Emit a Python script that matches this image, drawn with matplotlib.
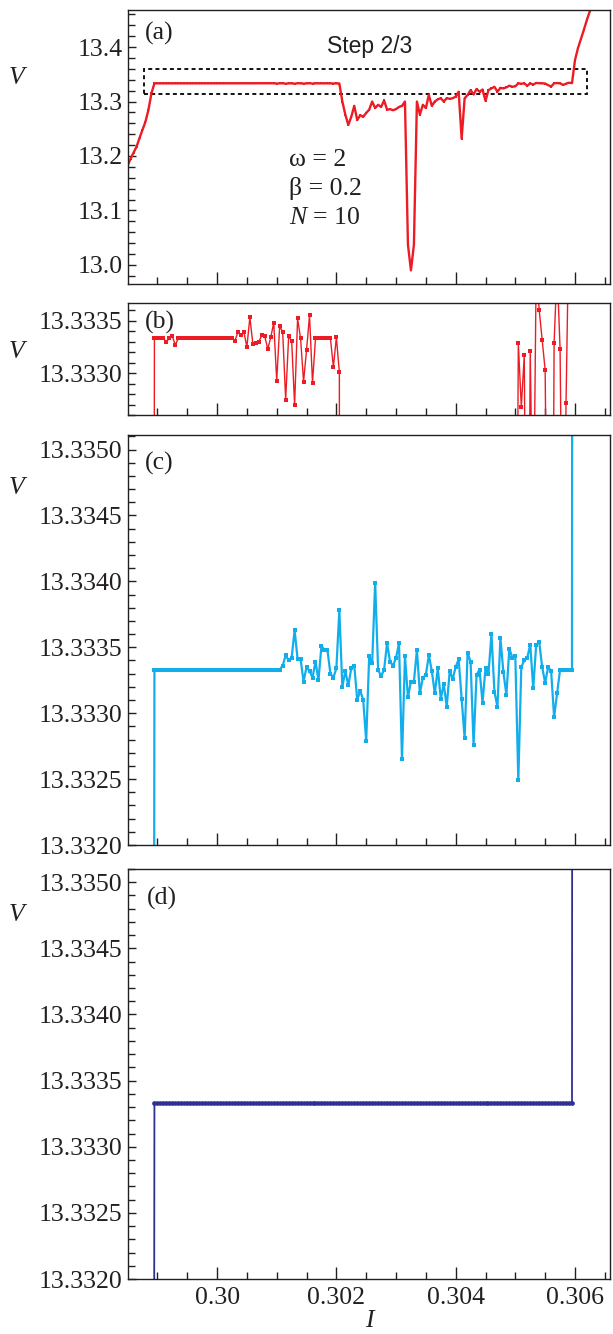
import matplotlib
matplotlib.use("Agg")
import matplotlib.pyplot as plt
from matplotlib.ticker import MultipleLocator, FormatStrFormatter, NullFormatter
from matplotlib.patches import Rectangle

plt.rcParams['font.family'] = ['Liberation Serif', 'DejaVu Serif']
plt.rcParams['mathtext.fontset'] = 'custom'
plt.rcParams['mathtext.rm'] = 'Liberation Serif'
plt.rcParams['mathtext.it'] = 'Liberation Serif:italic'

# ---------------- data ----------------
I_grid = [
    0.29850, 0.29855, 0.29860, 0.29865, 0.29870, 0.29875, 0.29880, 0.29885, 0.29890, 0.29895,
    0.29900, 0.29905, 0.29910, 0.29915, 0.29920, 0.29925, 0.29930, 0.29935, 0.29940, 0.29945,
    0.29950, 0.29955, 0.29960, 0.29965, 0.29970, 0.29975, 0.29980, 0.29985, 0.29990, 0.29995,
    0.30000, 0.30005, 0.30010, 0.30015, 0.30020, 0.30025, 0.30030, 0.30035, 0.30040, 0.30045,
    0.30050, 0.30055, 0.30060, 0.30065, 0.30070, 0.30075, 0.30080, 0.30085, 0.30090, 0.30095,
    0.30100, 0.30105, 0.30110, 0.30115, 0.30120, 0.30125, 0.30130, 0.30135, 0.30140, 0.30145,
    0.30150, 0.30155, 0.30160, 0.30165, 0.30170, 0.30175, 0.30180, 0.30185, 0.30190, 0.30195,
    0.30200, 0.30205, 0.30210, 0.30215, 0.30220, 0.30225, 0.30230, 0.30235, 0.30240, 0.30245,
    0.30250, 0.30255, 0.30260, 0.30265, 0.30270, 0.30275, 0.30280, 0.30285, 0.30290, 0.30295,
    0.30300, 0.30305, 0.30310, 0.30315, 0.30320, 0.30325, 0.30330, 0.30335, 0.30340, 0.30345,
    0.30350, 0.30355, 0.30360, 0.30365, 0.30370, 0.30375, 0.30380, 0.30385, 0.30390, 0.30395,
    0.30400, 0.30405, 0.30410, 0.30415, 0.30420, 0.30425, 0.30430, 0.30435, 0.30440, 0.30445,
    0.30450, 0.30455, 0.30460, 0.30465, 0.30470, 0.30475, 0.30480, 0.30485, 0.30490, 0.30495,
    0.30500, 0.30505, 0.30510, 0.30515, 0.30520, 0.30525, 0.30530, 0.30535, 0.30540, 0.30545,
    0.30550, 0.30555, 0.30560, 0.30565, 0.30570, 0.30575, 0.30580, 0.30585, 0.30590, 0.30595,
    0.30600, 0.30605, 0.30610, 0.30615, 0.30620, 0.30625, 0.30630,
]

# red series, panels (a) and (b)
V_red = [
    13.182, 13.195, 13.206, 13.217, 13.233, 13.248, 13.263, 13.285, 13.315, 13.33333,
    13.33333, 13.33333, 13.33333, 13.33330, 13.33333, 13.33335, 13.33327, 13.33333, 13.33333, 13.33333,
    13.33333, 13.33333, 13.33333, 13.33333, 13.33333, 13.33333, 13.33333, 13.33333, 13.33333, 13.33333,
    13.33333, 13.33333, 13.33333, 13.33333, 13.33333, 13.33333, 13.33331, 13.33339, 13.33336, 13.33339,
    13.33325, 13.33353, 13.33328, 13.33329, 13.33330, 13.33336, 13.33335, 13.33323, 13.33334, 13.33348,
    13.33293, 13.33345, 13.33339, 13.33275, 13.33335, 13.33331, 13.33270, 13.33352, 13.33333, 13.33292,
    13.33322, 13.33355, 13.33291, 13.33333, 13.33333, 13.33333, 13.33333, 13.33333, 13.33333, 13.33306,
    13.33334, 13.33301, 13.300, 13.276, 13.257, 13.272, 13.292, 13.266, 13.275, 13.272,
    13.279, 13.285, 13.300, 13.288, 13.294, 13.290, 13.302, 13.285, 13.286, 13.284,
    13.286, 13.290, 13.292, 13.300, 13.037, 12.990, 13.037, 13.300, 13.276, 13.294,
    13.288, 13.312, 13.292, 13.300, 13.304, 13.306, 13.300, 13.306, 13.305, 13.306,
    13.309, 13.318, 13.232, 13.306, 13.312, 13.321, 13.313, 13.323, 13.318, 13.322,
    13.301, 13.321, 13.324, 13.327, 13.318, 13.325, 13.324, 13.326, 13.329, 13.327,
    13.328, 13.33329, 13.33268, 13.33317, 13.3290, 13.33321, 13.3312, 13.3340, 13.3336, 13.33332,
    13.33303, 13.3300, 13.3275, 13.33329, 13.3340, 13.33323, 13.3305, 13.33272, 13.3345, 13.3338,
    13.376, 13.398, 13.415, 13.432, 13.450, 13.466, 13.482,
]

# blue series, panel (c): I_grid from 0.29890 to 0.30600
V_plateau = 13.33333
V_c_noise = [
    13.33336, 13.33344, 13.33340, 13.33342, 13.33363, 13.33341, 13.33341, 13.33324, 13.33335, 13.33332,
    13.33327, 13.33339, 13.33325, 13.33351, 13.33348, 13.33348, 13.33330, 13.33327, 13.33334, 13.33378,
    13.33320, 13.33332, 13.33321, 13.33334, 13.33336, 13.33310, 13.33317, 13.33310, 13.33279, 13.33343,
    13.33338, 13.33399, 13.33333, 13.33328, 13.33333, 13.33353, 13.33339, 13.33336, 13.33342, 13.33353,
    13.33265, 13.33343, 13.33312, 13.33324, 13.33324, 13.33348, 13.33315, 13.33327, 13.33329, 13.33344,
    13.33332, 13.33315, 13.33334, 13.33311, 13.33322, 13.33305, 13.33332, 13.33326, 13.33335, 13.33341,
    13.33311, 13.33281, 13.33346, 13.33339, 13.33276, 13.33329, 13.33333, 13.33308, 13.33334, 13.33330,
    13.33360, 13.33316, 13.33305, 13.33357, 13.33331, 13.33314, 13.33349, 13.33342, 13.33343, 13.33249,
    13.33335, 13.33340, 13.33342, 13.33352, 13.33319, 13.33352, 13.33354, 13.33335, 13.33323, 13.33335,
    13.33332, 13.33297, 13.33315, 13.33333,
]
V_c = [13.315] + [V_plateau] * 43 + V_c_noise + [V_plateau] * 4 + [13.376]

# dark-blue series, panel (d)
V_d = [13.315] + [V_plateau] * 141 + [13.376]

I_cd = I_grid[8:151]

xlim = (0.298507, 0.306587)
ylims = {'a': (12.965, 13.468), 'b': (13.3326, 13.33367),
         'c': (13.3320, 13.33511), 'd': (13.3320, 13.33510)}
box_I = (0.29877, 0.30620)
box_V = (13.313, 13.3596)

RED = '#ED1C24'
BLUE = '#12AEEC'
NAVY = '#2E3192'
SPINE = '#231f20'

W, H = 613, 1334
fig = plt.figure(figsize=(W / 100, H / 100), dpi=100)


def rect(top, bottom, left=128, right=610):
    return [left / W, 1 - bottom / H, (right - left) / W, (bottom - top) / H]


def fx(px):
    return px / W


def fy(py):
    return 1 - py / H


ax_a = fig.add_axes(rect(10, 284))
ax_b = fig.add_axes(rect(302.7, 415.3))
ax_c = fig.add_axes(rect(435, 845))
ax_d = fig.add_axes(rect(869, 1279))

ax_a.plot(I_grid, V_red, color=RED, lw=1.7, marker='s', ms=2.0, mew=0)
ax_b.plot(I_grid, V_red, color=RED, lw=1.0, marker='s', ms=3.0, mew=0)
ax_c.plot(I_cd, V_c, color=BLUE, lw=1.6, marker='s', ms=2.8, mew=0)
ax_d.plot(I_cd, V_d, color=NAVY, lw=1.3, marker='o', ms=3.4, mew=0)

ax_a.add_patch(Rectangle((box_I[0], box_V[0]), box_I[1] - box_I[0], box_V[1] - box_V[0],
                         fill=False, ec='black', lw=1.3, ls=(0, (2.2, 1.8))))

for key, ax in zip('abcd', [ax_a, ax_b, ax_c, ax_d]):
    ax.set_xlim(*xlim)
    ax.set_ylim(*ylims[key])
    ax.xaxis.set_major_locator(MultipleLocator(0.002))
    ax.xaxis.set_minor_locator(MultipleLocator(0.0005))
    if key == 'a':
        ax.yaxis.set_major_locator(MultipleLocator(0.1))
        ax.yaxis.set_minor_locator(MultipleLocator(0.02))
        ax.yaxis.set_major_formatter(FormatStrFormatter('%.1f'))
    else:
        ax.yaxis.set_major_locator(MultipleLocator(0.0005))
        ax.yaxis.set_minor_locator(MultipleLocator(0.0001))
        ax.yaxis.set_major_formatter(FormatStrFormatter('%.4f'))
    ax.tick_params(axis='both', which='both', direction='in', top=False, right=False,
                   color=SPINE, labelsize=18.5, labelcolor='#231f20')
    ax.tick_params(axis='x', which='major', length=8.5, width=1.0, pad=6)
    ax.tick_params(axis='x', which='minor', length=5, width=1.0)
    ax.tick_params(axis='y', which='major', length=6, width=1.0, pad=4)
    ax.tick_params(axis='y', which='minor', length=4.8, width=1.0)
    for s in ax.spines.values():
        s.set_color(SPINE)
        s.set_linewidth(1.0)
    if key != 'd':
        ax.xaxis.set_major_formatter(NullFormatter())
    else:
        ax.set_xticks([0.300, 0.302, 0.304, 0.306])
        ax.set_xticklabels(['0.30', '0.302', '0.304', '0.306'])

# texts
TXT = '#231f20'
for py in (78, 352, 488, 915):
    fig.text(fx(17), fy(py), 'V', fontsize=18.5, style='italic', ha='center', va='center', color=TXT)
for lab, px, py in (('(a)', 145, 33), ('(b)', 145, 322), ('(c)', 145, 463), ('(d)', 147, 898)):
    fig.text(fx(px), fy(py), lab, fontsize=18.5, ha='left', va='center', color=TXT)

fig.text(fx(370), fy(47), 'Step 2/3', fontsize=16.5, family=['Liberation Sans', 'DejaVu Sans'],
         ha='center', va='center', color=TXT)
fig.text(fx(289), fy(160), 'ω = 2', fontsize=18.5, ha='left', va='center', color=TXT)
fig.text(fx(289), fy(188), 'β = 0.2', fontsize=18.5, ha='left', va='center', color=TXT)
fig.text(fx(289), fy(218), r'$N$ = 10', fontsize=18.5, ha='left', va='center', color=TXT)
fig.text(fx(369), fy(1332), 'I', fontsize=18.5, style='italic', ha='center', va='bottom', color=TXT)

fig.savefig('out.png', dpi=100)
